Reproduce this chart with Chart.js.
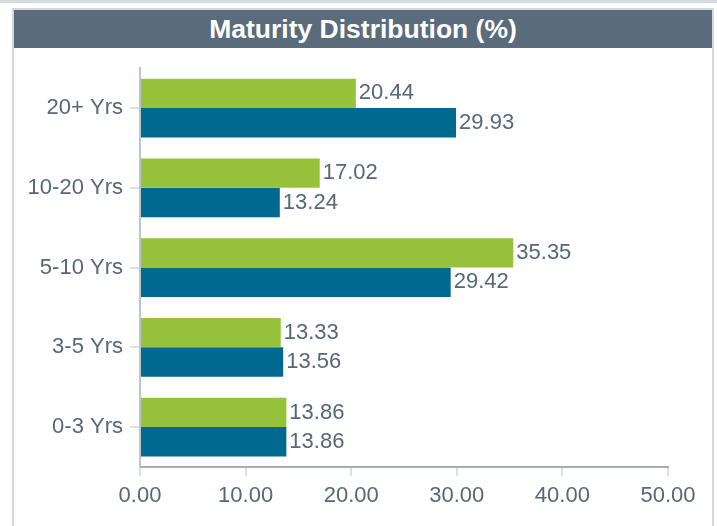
<!DOCTYPE html>
<html>
<head>
<meta charset="utf-8">
<script src="https://cdn.jsdelivr.net/npm/chart.js@4.4.1/dist/chart.umd.min.js"></script>
<style>
  html, body { margin: 0; padding: 0; background: #ffffff; width: 717px; height: 526px; overflow: hidden; }
  .topstrip { position: absolute; left: 0; top: 0; width: 717px; height: 3px; background: #d6dbe2; }
  .panel { position: absolute; left: 12px; top: 8px; width: 698px; height: 530px;
           border: 2px solid #d3d8df; background: #ffffff; }
  .panel-title { position: absolute; left: 0; top: 0; width: 698px; height: 38px; background: #5a6b7b;
                 color: #ffffff; font: bold 26.5px "Liberation Sans", Arial, sans-serif;
                 line-height: 38px; text-align: center; }
  #chart { position: absolute; left: 0; top: 38px; }
</style>
</head>
<body>
<div class="topstrip"></div>
<div class="panel">
  <div class="panel-title">Maturity Distribution (%)</div>
  <canvas id="chart" width="698" height="478"></canvas>
</div>
<script>
// Maturity buckets, longest first
const categories = ['20+ Yrs', '10-20 Yrs', '5-10 Yrs', '3-5 Yrs', '0-3 Yrs'];
const portfolioValues = [20.44, 17.02, 35.35, 13.33, 13.86];
const benchmarkValues = [29.93, 13.24, 29.42, 13.56, 13.86];
const axisTicks = [0, 10, 20, 30, 40, 50];

const textColor = '#56677a';
const fontFamily = '"Liberation Sans", Arial, sans-serif';

// Writes each bar's value just past its end
const valueLabels = {
  id: 'valueLabels',
  afterDatasetsDraw(chart) {
    const ctx = chart.ctx;
    ctx.save();
    ctx.font = '22px ' + fontFamily;
    ctx.fillStyle = textColor;
    ctx.textAlign = 'left';
    ctx.textBaseline = 'middle';
    chart.data.datasets.forEach((ds, i) => {
      const meta = chart.getDatasetMeta(i);
      meta.data.forEach((bar, j) => {
        ctx.fillText(ds.data[j].toFixed(2), bar.x + 3, bar.y);
      });
    });
    ctx.restore();
  }
};

new Chart(document.getElementById('chart'), {
  type: 'bar',
  data: {
    labels: categories,
    datasets: [
      { label: 'Portfolio', data: portfolioValues, backgroundColor: '#97c33c',
        barPercentage: 1.0, categoryPercentage: 0.735 },
      { label: 'Benchmark', data: benchmarkValues, backgroundColor: '#006990',
        barPercentage: 1.0, categoryPercentage: 0.735 }
    ]
  },
  options: {
    indexAxis: 'y',
    responsive: false,
    animation: false,
    devicePixelRatio: 1,
    layout: { padding: { top: 18, right: 44, left: 0, bottom: 0 } },
    plugins: {
      legend: { display: false },
      tooltip: { enabled: false },
      title: { display: false }
    },
    scales: {
      x: {
        type: 'linear',
        min: axisTicks[0],
        max: axisTicks[axisTicks.length - 1],
        afterBuildTicks(scale) { scale.ticks = axisTicks.map(v => ({ value: v })); },
        afterFit(scale) { scale.height = 59; },
        border: { display: true, color: '#a2aebb', width: 2 },
        grid: { drawOnChartArea: false, drawTicks: true, tickLength: 9, color: '#dcdfe4', lineWidth: 2 },
        ticks: {
          color: textColor,
          font: { family: fontFamily, size: 22 },
          padding: 7,
          maxRotation: 0,
          callback: v => Number(v).toFixed(2)
        }
      },
      y: {
        afterFit(scale) { scale.width = 126; },
        border: { display: true, color: '#bcc5cf', width: 2 },
        grid: { drawOnChartArea: false, drawTicks: true, tickLength: 10, color: '#dcdfe4', lineWidth: 2, offset: false },
        ticks: {
          color: textColor,
          font: { family: fontFamily, size: 22 },
          padding: 7
        }
      }
    }
  },
  plugins: [valueLabels]
});
</script>
</body>
</html>
